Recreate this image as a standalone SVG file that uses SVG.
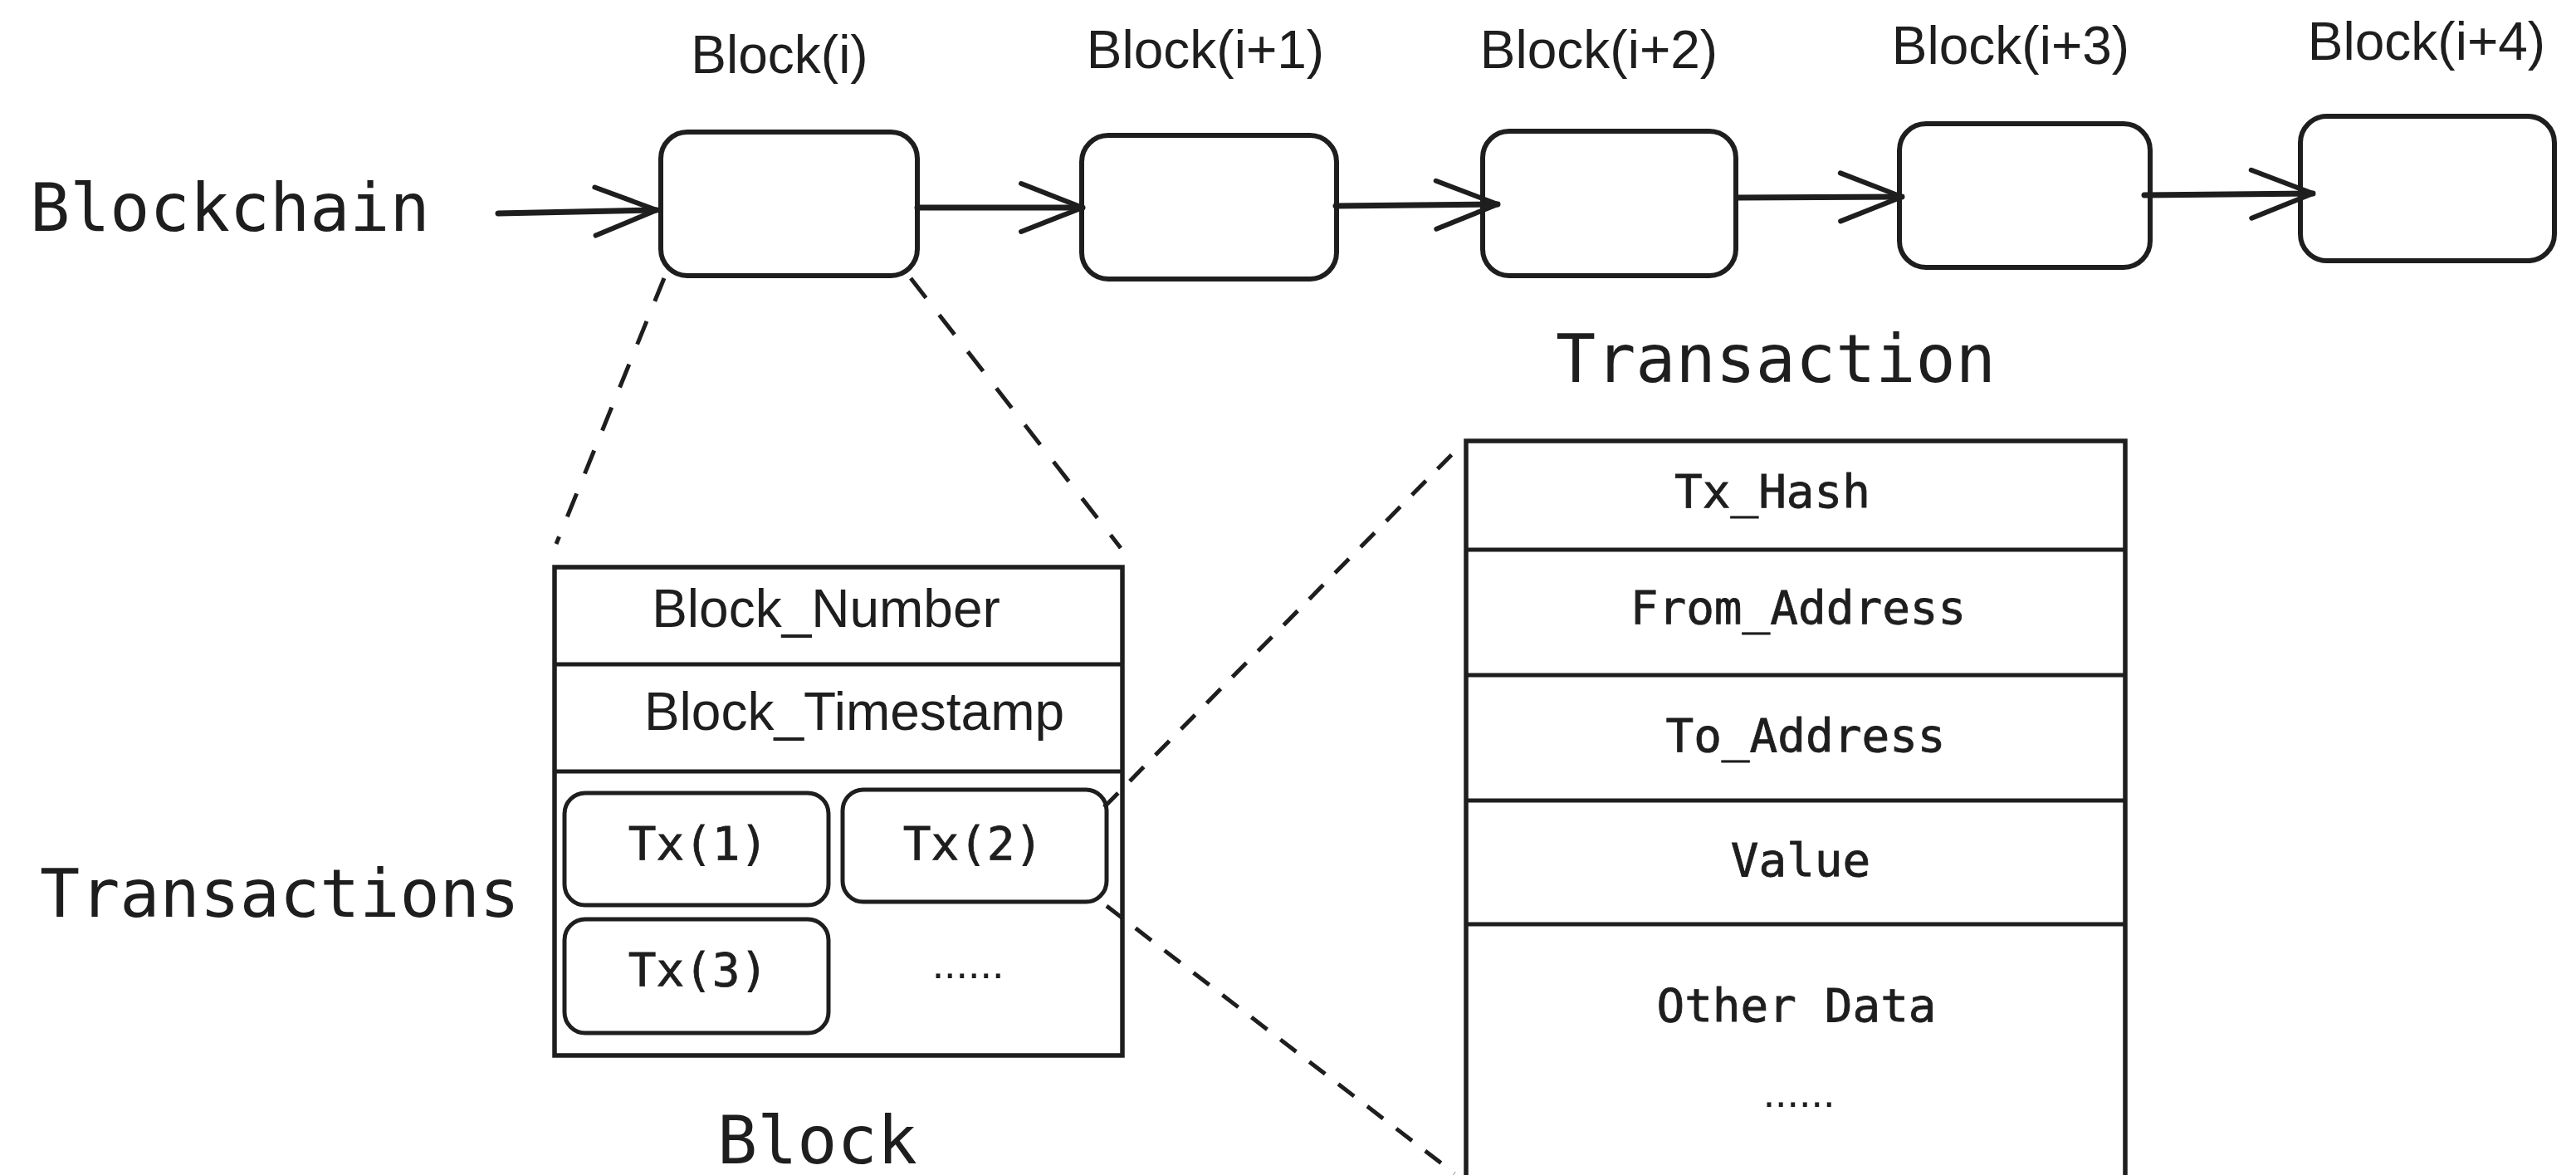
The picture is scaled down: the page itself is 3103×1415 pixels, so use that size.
<svg xmlns="http://www.w3.org/2000/svg" width="3103" height="1415" viewBox="0 0 3103 1415">
<style>
.bg{fill:#ffffff}
.box{fill:none;stroke:#1e1e1e;stroke-width:6}
.tbl{fill:none;stroke:#1e1e1e;stroke-width:5.5}
.row{stroke:#1e1e1e;stroke-width:5}
.tx{fill:none;stroke:#1e1e1e;stroke-width:5}
.big{font-family:"DejaVu Sans Mono","Liberation Mono",monospace;font-size:80px;fill:#1e1e1e}
.mono{font-family:"DejaVu Sans Mono","Liberation Mono",monospace;font-size:56px;fill:#1e1e1e;text-anchor:middle;stroke:#1e1e1e;stroke-width:0.8}
.hand{font-family:"Liberation Sans",Arial,sans-serif;font-size:64px;fill:#1e1e1e;text-anchor:middle}
.dots{font-family:"Liberation Sans",Arial,sans-serif;font-size:52px;fill:#1e1e1e;text-anchor:middle}
.arrow{fill:none;stroke:#1e1e1e;stroke-width:7;stroke-linecap:round;marker-end:url(#chev)}
.dash{fill:none;stroke:#1e1e1e;stroke-width:5;stroke-dasharray:30 26}
.dash2{fill:none;stroke:#1e1e1e;stroke-width:5;stroke-dasharray:24 20}
</style>
<defs>
<marker id="chev" markerUnits="userSpaceOnUse" viewBox="-85 -40 95 80" refX="0" refY="0" markerWidth="95" markerHeight="80" orient="auto">
<path d="M-74,-29 L0,0 L-74,29" fill="none" stroke="#1e1e1e" stroke-width="6" stroke-linecap="round" stroke-linejoin="round"/>
</marker>
</defs>
<rect class="bg" x="0" y="0" width="3103" height="1415"/>

<g id="blockchain-label"><text class="big" x="36" y="278">Blockchain</text></g>

<g id="block-i">
<rect class="box" x="796" y="159" width="309" height="173" rx="32"/>
<text class="hand" x="939" y="88">Block(i)</text>
</g>
<g id="block-i1">
<rect class="box" x="1303" y="163" width="307" height="173" rx="32"/>
<text class="hand" x="1452" y="82">Block(i+1)</text>
</g>
<g id="block-i2">
<rect class="box" x="1786" y="158" width="305" height="174" rx="32"/>
<text class="hand" x="1926" y="82">Block(i+2)</text>
</g>
<g id="block-i3">
<rect class="box" x="2288" y="149" width="302" height="173" rx="32"/>
<text class="hand" x="2422" y="77">Block(i+3)</text>
</g>
<g id="block-i4">
<rect class="box" x="2771" y="140" width="306" height="174" rx="32"/>
<text class="hand" x="2923" y="72">Block(i+4)</text>
</g>

<g id="transaction-label"><text class="big" x="1874" y="460">Transaction</text></g>
<g id="transactions-label"><text class="big" x="48" y="1104">Transactions</text></g>
<g id="block-label"><text class="big" x="864" y="1401">Block</text></g>

<g id="block-detail">
<rect class="tbl" x="668" y="683" width="684" height="588"/>
<line class="row" x1="668" y1="800" x2="1352" y2="800"/>
<line class="row" x1="668" y1="929" x2="1352" y2="929"/>
<text class="hand" x="995" y="755">Block_Number</text>
<text class="hand" x="1029" y="879">Block_Timestamp</text>
<text class="dots" x="1166" y="1178">......</text>
</g>
<g id="tx1">
<rect class="tx" x="680" y="955" width="318" height="135" rx="25"/>
<text class="mono" x="841" y="1035">Tx(1)</text>
</g>
<g id="tx2">
<rect class="tx" x="1015" y="951" width="318" height="135" rx="25"/>
<text class="mono" x="1172" y="1035">Tx(2)</text>
</g>
<g id="tx3">
<rect class="tx" x="680" y="1107" width="318" height="137" rx="25"/>
<text class="mono" x="841" y="1187">Tx(3)</text>
</g>

<g id="transaction-detail">
<rect class="tbl" x="1766" y="531" width="794" height="920"/>
<line class="row" x1="1766" y1="662" x2="2560" y2="662"/>
<line class="row" x1="1766" y1="813" x2="2560" y2="813"/>
<line class="row" x1="1766" y1="964" x2="2560" y2="964"/>
<line class="row" x1="1766" y1="1113" x2="2560" y2="1113"/>
<text class="mono" x="2135" y="611">Tx_Hash</text>
<text class="mono" x="2166" y="751">From_Address</text>
<text class="mono" x="2175" y="905">To_Address</text>
<text class="mono" x="2169" y="1055">Value</text>
<text class="mono" x="2164" y="1230">Other Data</text>
<text class="dots" x="2167" y="1333">......</text>
</g>

<g id="connectors">
<path class="arrow" d="M600,257 L791,253"/>
<path class="arrow" d="M1105,250 L1304,250"/>
<path class="arrow" d="M1609,248 L1804,246"/>
<path class="arrow" d="M2094,238 L2291,237"/>
<path class="arrow" d="M2583,235 L2786,233"/>
<path class="dash" d="M800,335 L670,655"/>
<path class="dash" d="M1097,335 L1350,660"/>
<path class="dash2" d="M1330,972 L1762,534"/>
<path class="dash2" d="M1333,1091 L1752,1413"/>
</g>
</svg>
